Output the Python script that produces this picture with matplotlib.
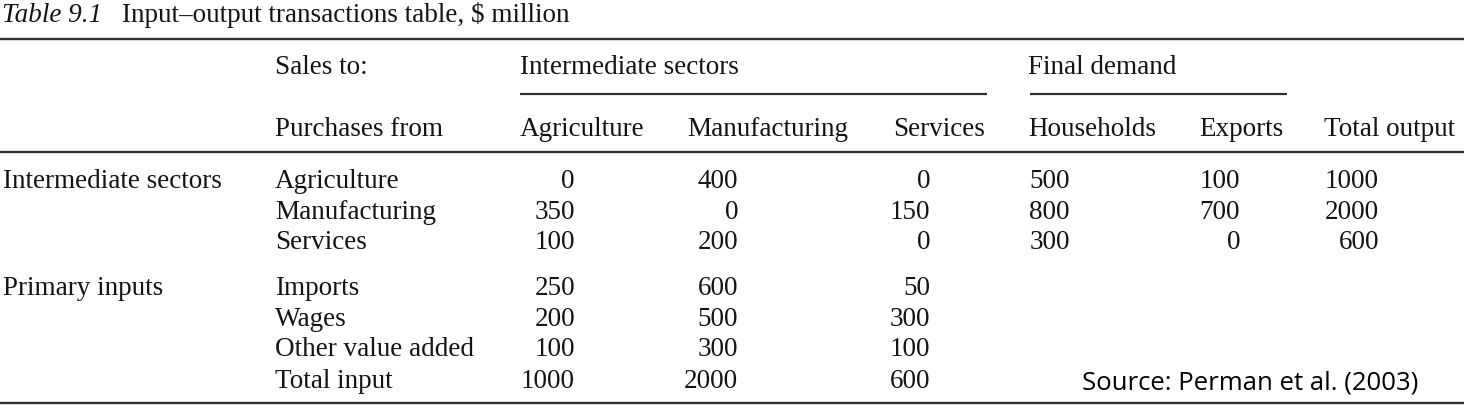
"""
Input-output transactions table (Perman et al. 2003), redrawn with matplotlib.
"""

import matplotlib
matplotlib.use("Agg")  # headless
import matplotlib.pyplot as plt

# --- data -------------------------------------------------------------------
TITLE_NUM = "Table 9.1"
TITLE_TEXT = "Input\u2013output transactions table, $ million"
SOURCE = "Source: Perman et al. (2003)"

group_labels = ["Intermediate sectors", "Primary inputs"]
intermediate_rows = ["Agriculture", "Manufacturing", "Services"]
primary_rows = ["Imports", "Wages", "Other value added", "Total input"]

sector_cols = ["Agriculture", "Manufacturing", "Services"]
final_cols = ["Households", "Exports"]
total_col = "Total output"

# sales from row sector to column sector
intermediate_flows = [
    [0, 400, 0],
    [350, 0, 150],
    [100, 200, 0],
]
final_demand = [
    [500, 100],
    [800, 700],
    [300, 0],
]
total_output = [1000, 2000, 600]
primary_inputs = [
    [250, 600, 50],
    [200, 500, 300],
    [100, 300, 100],
    [1000, 2000, 600],
]

# --- layout (pixel coordinates) ----------------------------------------------
W, H = 1472, 417
SERIF = "Liberation Serif"
FS = 19.5
INK = "#141414"
RULE = "#303030"

x_group = 3
x_label = 275
# (header left x, numbers right x)
sector_x = [(520, 575), (687, 738), (893, 930)]
final_x = [(1028, 1070), (1199, 1240)]
total_x = (1324, 1379)

y_title = 22
y_head1 = 74
y_head2 = 136
rows_int_y = [188, 218.5, 249]
rows_pri_y = [295, 325.5, 356.5, 387.5]

fig = plt.figure(figsize=(W / 100, H / 100), dpi=100)
ax = fig.add_axes([0, 0, 1, 1])
ax.set_xlim(0, W)
ax.set_ylim(H, 0)
ax.axis("off")


def txt(x, y, s, ha="left", **kw):
    ax.text(x, y, s, ha=ha, va="baseline", family=SERIF, fontsize=FS, color=INK, **kw)


# title
txt(2, y_title, TITLE_NUM, style="italic")
txt(122, y_title, TITLE_TEXT)

# rules
ax.hlines([39, 152], 0, 1464, color=RULE, lw=1.7)
ax.hlines(403, 0, 1464, color=RULE, lw=1.7)
ax.hlines(94, sector_x[0][0], 987, color=RULE, lw=1.6)
ax.hlines(94, final_x[0][0] + 2, 1287, color=RULE, lw=1.6)

# header
txt(x_label, y_head1, "Sales to:")
txt(sector_x[0][0], y_head1, "Intermediate sectors")
txt(final_x[0][0], y_head1, "Final demand")
txt(x_label, y_head2, "Purchases from")
for name, (hx, _) in zip(sector_cols, sector_x):
    txt(hx, y_head2, name)
for name, (hx, _) in zip(final_cols, final_x):
    txt(hx, y_head2, name)
txt(total_x[0], y_head2, total_col)

# intermediate sector rows
txt(x_group, rows_int_y[0], group_labels[0])
for i, name in enumerate(intermediate_rows):
    y = rows_int_y[i]
    txt(x_label, y, name)
    for v, (_, rx) in zip(intermediate_flows[i], sector_x):
        txt(rx, y, str(v), ha="right")
    for v, (_, rx) in zip(final_demand[i], final_x):
        txt(rx, y, str(v), ha="right")
    txt(total_x[1], y, str(total_output[i]), ha="right")

# primary input rows
txt(x_group, rows_pri_y[0], group_labels[1])
for i, name in enumerate(primary_rows):
    y = rows_pri_y[i]
    txt(x_label, y, name)
    for v, (_, rx) in zip(primary_inputs[i], sector_x):
        txt(rx, y, str(v), ha="right")

# source note
ax.text(1418, 390, SOURCE, ha="right", va="baseline", family="Open Sans",
        fontsize=18.5, color="#000000")

fig.savefig("out.png", dpi=100)
